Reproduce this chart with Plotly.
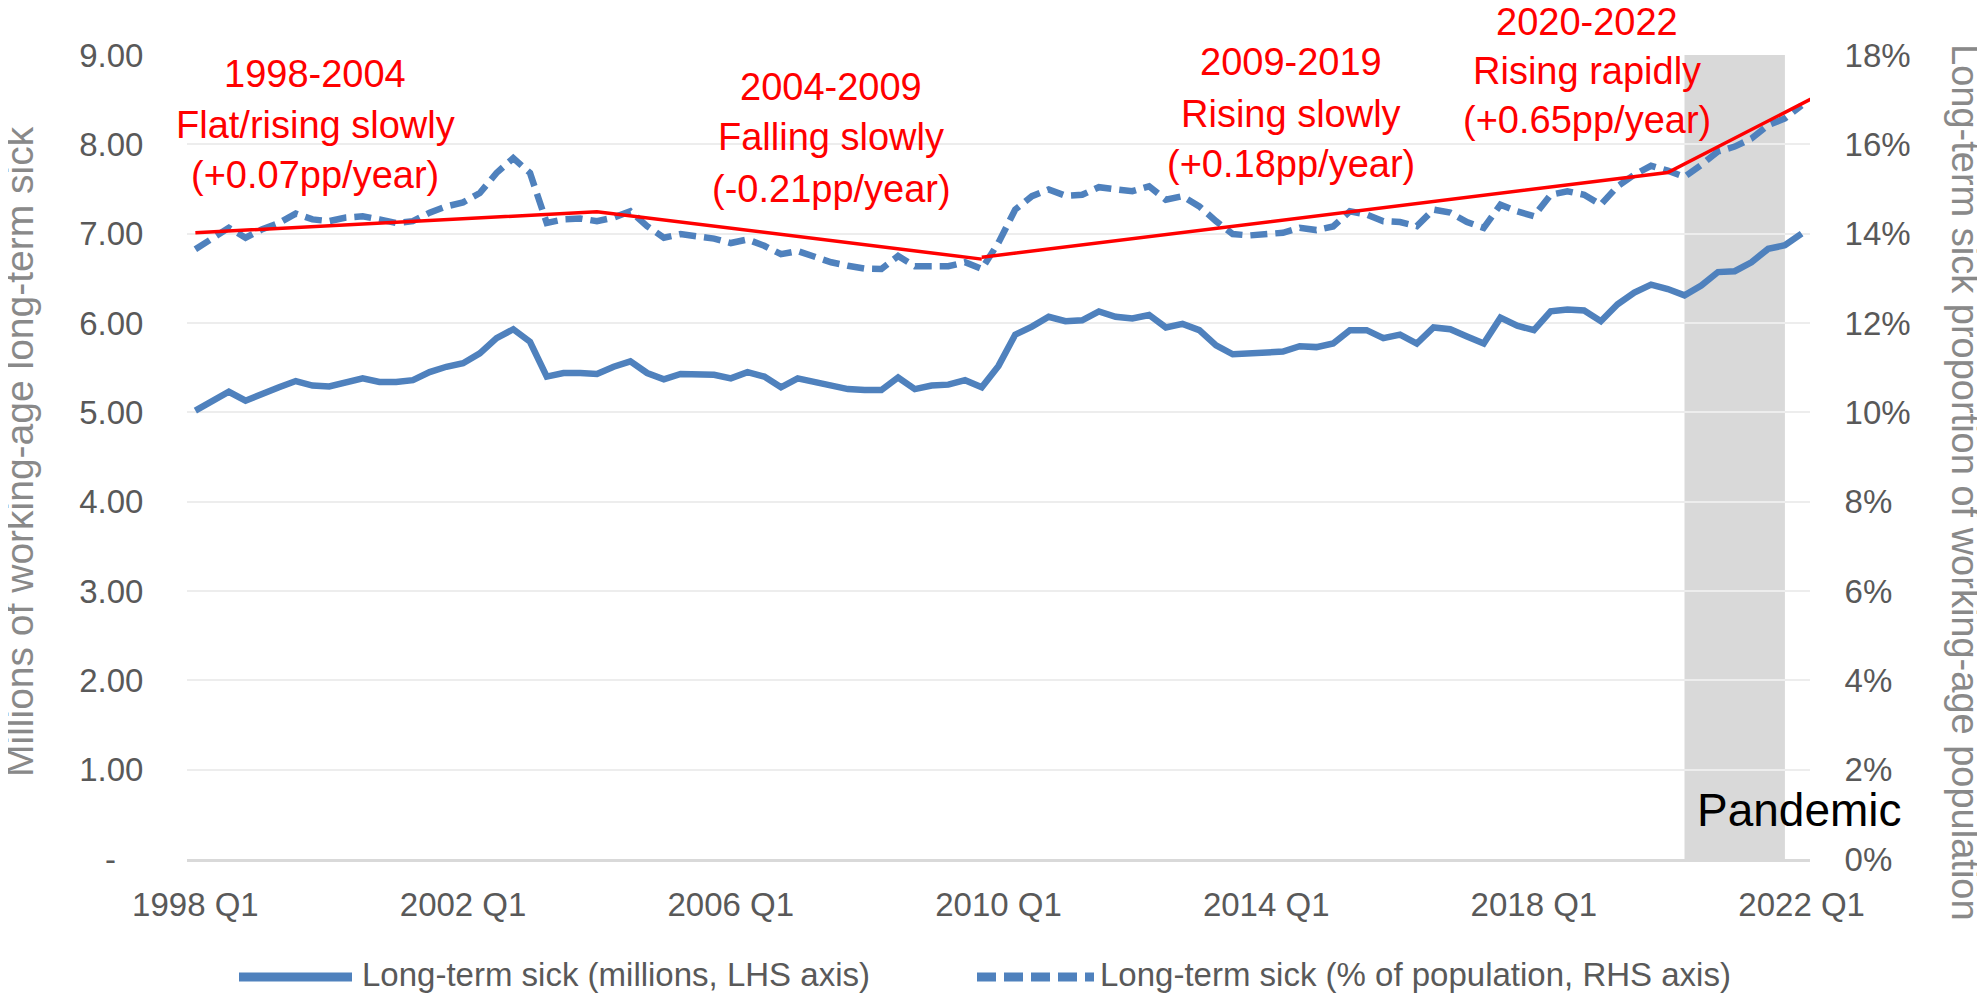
import plotly.graph_objects as go

# ---------------- data ----------------
start_year, end_year = 1998, 2022
quarters = [f"{y} Q{q}" for y in range(start_year, end_year + 1) for q in range(1, 5)][:97]  # 1998 Q1 .. 2022 Q1

sick_millions = [
    5.02, 5.13, 5.23, 5.13, 5.21, 5.28, 5.35, 5.30, 5.29, 5.34,
    5.38, 5.34, 5.34, 5.36, 5.45, 5.51, 5.55, 5.66, 5.83, 5.93,
    5.79, 5.40, 5.44, 5.44, 5.43, 5.51, 5.57, 5.44, 5.37, 5.43,
    5.43, 5.42, 5.38, 5.45, 5.40, 5.28, 5.38, 5.34, 5.29, 5.26,
    5.25, 5.25, 5.39, 5.26, 5.30, 5.31, 5.36, 5.28, 5.52, 5.87,
    5.96, 6.07, 6.02, 6.03, 6.13, 6.07, 6.05, 6.09, 5.95, 5.99,
    5.92, 5.75, 5.65, 5.66, 5.67, 5.68, 5.74, 5.73, 5.77, 5.92,
    5.92, 5.83, 5.87, 5.77, 5.95, 5.93, 5.85, 5.77, 6.06, 5.97,
    5.92, 6.13, 6.15, 6.14, 6.02, 6.21, 6.34, 6.43, 6.38, 6.31,
    6.42, 6.57, 6.58, 6.68, 6.83, 6.87, 7.00,
]

sick_pct = [
    13.65, 13.90, 14.13, 13.91, 14.10, 14.24, 14.45, 14.32, 14.28, 14.36,
    14.39, 14.32, 14.24, 14.28, 14.47, 14.61, 14.70, 14.91, 15.36, 15.69,
    15.36, 14.24, 14.32, 14.34, 14.28, 14.36, 14.50, 14.17, 13.91, 13.99,
    13.95, 13.89, 13.79, 13.87, 13.73, 13.54, 13.61, 13.47, 13.36, 13.28,
    13.22, 13.21, 13.50, 13.27, 13.27, 13.27, 13.36, 13.21, 13.80, 14.54,
    14.84, 14.99, 14.85, 14.87, 15.04, 14.99, 14.95, 15.06, 14.76, 14.84,
    14.61, 14.28, 13.99, 13.96, 13.99, 14.02, 14.13, 14.08, 14.16, 14.50,
    14.43, 14.28, 14.26, 14.17, 14.54, 14.47, 14.26, 14.13, 14.65, 14.50,
    14.39, 14.87, 14.95, 14.87, 14.65, 15.06, 15.32, 15.52, 15.41, 15.27,
    15.54, 15.84, 15.95, 16.13, 16.43, 16.58, 16.87,
]

# piecewise trend lines (percent, RHS axis)
trend1_quarters = ["1998 Q1", "2004 Q1", "2009 Q4"]
trend1_values = [14.02, 14.49, 13.43]
trend2_quarters = ["2009 Q4", "2020 Q1", "2022 Q2"]
trend2_values = [13.47, 15.37, 17.10]

pandemic_quarters = ["2020 Q2", "2021 Q4"]

tick_labels = ["1998 Q1", "2002 Q1", "2006 Q1", "2010 Q1", "2014 Q1", "2018 Q1", "2022 Q1"]
left_ticks = [0, 1, 2, 3, 4, 5, 6, 7, 8, 9]
left_ticktext = ["-\u00a0\u00a0\u00a0"] + [f"{v:.2f}" for v in left_ticks[1:]]
right_ticks = [0, 2, 4, 6, 8, 10, 12, 14, 16, 18]
right_ticktext = [f"{v}%" for v in right_ticks]

annotation_lines = [
    ["1998-2004", "Flat/rising slowly", "(+0.07pp/year)"],
    ["2004-2009", "Falling slowly", "(-0.21pp/year)"],
    ["2009-2019", "Rising slowly", "(+0.18pp/year)"],
    ["2020-2022", "Rising rapidly", "(+0.65pp/year)"],
]
series_names = ["Long-term sick (millions, LHS axis)", "Long-term sick (% of population, RHS axis)"]


def qidx(label):
    y, q = label.split(" Q")
    return (int(y) - start_year) * 4 + int(q) - 1


x_idx = [qidx(q) for q in quarters]

# ---------------- style / layout geometry ----------------
BLUE = "#4F81BD"
RED = "#FF0000"
FONT = "Liberation Sans, Arial, sans-serif"
TICK_COLOR = "#595959"
TITLE_COLOR = "#898989"

OFF = 8  # page body margin
W, H = 1985 - OFF, 993 - OFF
# plot area in page pixels
PL, PR, PT, PB = 187, 1810, 55, 859
L, R, T, B = PL - OFF, PR - OFF, PT - OFF, PB - OFF


def px(xp):  # page x -> paper
    return (xp - PL) / (PR - PL)


def py(yp):  # page y -> paper
    return (PB - yp) / (PB - PT)


fig = go.Figure()

fig.add_trace(go.Scatter(
    x=x_idx, y=sick_millions, mode="lines", name=series_names[0],
    line=dict(color=BLUE, width=6.5), yaxis="y", showlegend=False,
))
fig.add_trace(go.Scatter(
    x=x_idx, y=sick_pct, mode="lines", name=series_names[1],
    line=dict(color=BLUE, width=6.5, dash="17px,8px"), yaxis="y2", showlegend=False,
))
fig.add_trace(go.Scatter(
    x=[qidx(q) for q in trend1_quarters], y=trend1_values, mode="lines",
    line=dict(color=RED, width=3.5), yaxis="y2", showlegend=False, hoverinfo="skip",
))
fig.add_trace(go.Scatter(
    x=[qidx(q) for q in trend2_quarters], y=trend2_values, mode="lines",
    line=dict(color=RED, width=3.5), yaxis="y2", showlegend=False, hoverinfo="skip",
))

LEG_Y = 977
shapes = [
    dict(type="rect", xref="x", yref="paper",
         x0=qidx(pandemic_quarters[0]), x1=qidx(pandemic_quarters[1]), y0=0, y1=1,
         fillcolor="#D9D9D9", line=dict(width=0), layer="between"),
    # custom legend symbols
    dict(type="line", xref="paper", yref="paper", x0=px(239), x1=px(352), y0=py(LEG_Y), y1=py(LEG_Y),
         line=dict(color=BLUE, width=9)),
    dict(type="line", xref="paper", yref="paper", x0=px(977), x1=px(1094), y0=py(LEG_Y), y1=py(LEG_Y),
         line=dict(color=BLUE, width=9, dash="19px,8px")),
]

ann = []
# (center x, baselines) in page pixels
block_pos = [
    (315, [87, 138, 188]),
    (831, [100, 150, 202]),
    (1291, [75, 127, 177]),
    (1587, [35, 84, 133]),
]
FS = 38
for lines, (cx, bases) in zip(annotation_lines, block_pos):
    for txt, base in zip(lines, bases):
        ann.append(dict(text=txt, xref="paper", yref="paper", x=px(cx), y=py(base - 0.35 * FS),
                        xanchor="center", yanchor="middle", showarrow=False,
                        font=dict(family=FONT, size=FS, color=RED)))
ann.append(dict(text="Pandemic", xref="paper", yref="paper", x=px(1799), y=py(826 - 0.35 * 46),
                xanchor="center", yanchor="middle", showarrow=False,
                font=dict(family=FONT, size=46, color="black")))
ann.append(dict(text="Millions of working-age long-term sick", xref="paper", yref="paper",
                x=px(19), y=py(452), xanchor="center", yanchor="middle", textangle=-90,
                showarrow=False, font=dict(family=FONT, size=39, color=TITLE_COLOR)))
ann.append(dict(text="Long-term sick proportion of working-age population", xref="paper", yref="paper",
                x=px(1965), y=py(482), xanchor="center", yanchor="middle", textangle=90,
                showarrow=False, font=dict(family=FONT, size=38, color=TITLE_COLOR)))
# custom legend labels
ann.append(dict(text=series_names[0], xref="paper", yref="paper", x=px(360), y=py(986 - 0.35 * 33),
                xanchor="left", yanchor="middle", showarrow=False,
                font=dict(family=FONT, size=33, color=TICK_COLOR)))
ann.append(dict(text=series_names[1], xref="paper", yref="paper", x=px(1098), y=py(986 - 0.35 * 33),
                xanchor="left", yanchor="middle", showarrow=False,
                font=dict(family=FONT, size=33, color=TICK_COLOR)))

fig.update_layout(
    width=W, height=H,
    margin=dict(l=L, r=W - R, t=T, b=H - B, pad=0),
    paper_bgcolor="white", plot_bgcolor="white",
    font=dict(family=FONT, size=33, color=TICK_COLOR),
    showlegend=False,
    shapes=shapes,
    annotations=ann,
    xaxis=dict(
        range=[-0.5, 96.5], tickmode="array",
        tickvals=[qidx(t) for t in tick_labels], ticktext=tick_labels,
        showgrid=False, zeroline=False,
        showline=True, linecolor="#D9D9D9", linewidth=3,
        ticks="outside", ticklen=14, tickcolor="rgba(0,0,0,0)",
        tickfont=dict(family=FONT, size=33, color=TICK_COLOR),
    ),
    yaxis=dict(
        range=[0, 9], tickmode="array", tickvals=left_ticks, ticktext=left_ticktext,
        showgrid=True, gridcolor="#EDEDED", gridwidth=2, zeroline=False,
        ticks="outside", ticklen=36, tickcolor="rgba(0,0,0,0)",
        tickfont=dict(family=FONT, size=33, color=TICK_COLOR),
    ),
    yaxis2=dict(
        range=[0, 18], overlaying="y", side="right", tickmode="array",
        tickvals=right_ticks, ticktext=right_ticktext,
        showgrid=False, zeroline=False,
        ticks="outside", ticklen=27, tickcolor="rgba(0,0,0,0)",
        tickfont=dict(family=FONT, size=33, color=TICK_COLOR),
    ),
)

fig.write_html("out.html")
